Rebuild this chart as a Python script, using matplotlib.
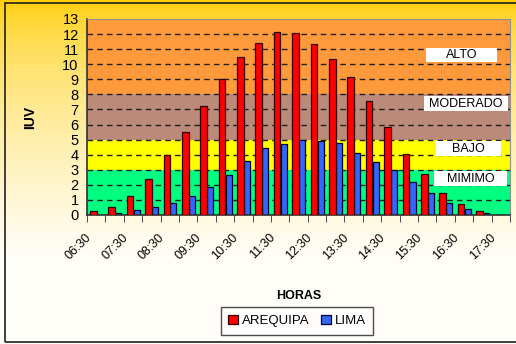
import numpy as np
import matplotlib.pyplot as plt
from matplotlib.patches import Rectangle
import matplotlib.transforms as mtransforms

plt.rcParams['font.family'] = ['Liberation Sans', 'DejaVu Sans']

# half-hour slots, 06:30 .. 17:30
horas = ['06:30', '07:00', '07:30', '08:00', '08:30', '09:00', '09:30', '10:00',
         '10:30', '11:00', '11:30', '12:00', '12:30', '13:00', '13:30', '14:00',
         '14:30', '15:00', '15:30', '16:00', '16:30', '17:00', '17:30']
arequipa = [0.27, 0.55, 1.28, 2.37, 3.96, 5.5, 7.26, 9.05, 10.46, 11.44, 12.12, 12.06,
            11.35, 10.33, 9.14, 7.57, 5.84, 4.03, 2.7, 1.44, 0.73, 0.27, 0]
lima = [0, 0.1, 0.33, 0.5, 0.8, 1.28, 1.84, 2.63, 3.56, 4.42, 4.69, 4.98,
        4.91, 4.8, 4.12, 3.5, 3.0, 2.2, 1.44, 0.82, 0.4, 0.1, 0]

# UV risk bands: (lower, upper, colour, label)
bandas = [(0, 3, '#00FF80', 'MIMIMO'),
          (3, 5, '#FFFF00', 'BAJO'),
          (5, 8, '#BC8A78', 'MODERADO'),
          (8, 13, '#FF9A3C', 'ALTO')]

fig = plt.figure(figsize=(5.16, 3.44), dpi=100)

# gradient background (gold at top -> cream at bottom)
bg = fig.add_axes([0, 0, 1, 1], zorder=-10)
t = np.linspace(0, 1, 256)[:, None]
top = np.array([1.0, 0.80, 0.0])
bot = np.array([1.0, 0.995, 0.975])
w = np.clip(t / 0.75, 0, 1) ** 0.6
grad = (top * (1 - w) + bot * w)[:, None, :]
bg.imshow(grad, aspect='auto', extent=[0, 1, 0, 1])
bg.add_patch(Rectangle((5 / 516, 2 / 344), 1.2, 339 / 344, fill=False,
                       edgecolor='#202020', lw=1.2, transform=bg.transAxes))
bg.set_axis_off()

ax = fig.add_axes([87 / 516, 129 / 344, 423 / 516, 196 / 344])
x = np.arange(len(horas))

for lo, hi, col, lab in bandas:
    ax.axhspan(lo, hi, color=col, zorder=0, lw=0)

for y in range(1, 13):
    ax.axhline(y, color='#202020', lw=1.0, ls=(0, (4, 3)), zorder=1)

bw = 0.36
ax.bar(x - 0.16, arequipa, bw, color='#FF0000', edgecolor='#300000', lw=0.9,
       zorder=3, label='AREQUIPA')
ax.bar(x + 0.2, lima, 0.33, color='#3366FF', edgecolor='#000030', lw=0.9,
       zorder=2, label='LIMA')

# white label boxes for each band
cajas = {'ALTO': (17.93, 10.15, 21.79, 11.07),
         'MODERADO': (17.83, 6.90, 22.39, 7.89),
         'BAJO': (18.48, 3.91, 22.01, 4.91),
         'MIMIMO': (18.37, 1.92, 22.34, 2.92)}
for lab, (x0, y0, x1, y1) in cajas.items():
    ax.add_patch(Rectangle((x0, y0), x1 - x0, y1 - y0, facecolor='white',
                           edgecolor='none', zorder=4))
    ax.text((x0 + x1) / 2, (y0 + y1) / 2, lab, ha='center', va='center',
            fontsize=9, zorder=5)

ax.set_xlim(-0.5, len(horas) - 0.5)
ax.set_ylim(0, 13)
ax.set_yticks(range(14))
ax.tick_params(axis='y', labelsize=10.5, length=0, pad=6)

ax.set_xticks(x[::2])
ax.set_xticklabels(horas[::2], rotation=45, ha='right', va='center',
                   rotation_mode='anchor', fontsize=9)
ax.tick_params(axis='x', length=0, pad=15)
off = mtransforms.ScaledTranslation(-7 / 100, 0, fig.dpi_scale_trans)
for lbl in ax.get_xticklabels():
    lbl.set_transform(lbl.get_transform() + off)
ax.set_xticks(np.arange(-0.5, len(horas)), minor=True)
ax.tick_params(axis='x', which='minor', length=5, direction='out', color='#303030')

for s in ['top', 'right']:
    ax.spines[s].set_color('#909090')
for s in ['left', 'bottom']:
    ax.spines[s].set_color('#303030')
    ax.spines[s].set_linewidth(1.2)

ax.set_ylabel('IUV', fontsize=10, fontweight='bold', labelpad=18)
ax.set_xlabel('HORAS', fontsize=9, fontweight='bold', labelpad=20)

leg = ax.legend(loc='center', bbox_to_anchor=(297 / 516, 23 / 344),
                bbox_transform=fig.transFigure, ncol=2, fontsize=9.5,
                frameon=True, fancybox=False, handlelength=0.75, handleheight=0.75,
                handletextpad=0.25, columnspacing=0.9, borderpad=0.6,
                borderaxespad=0)
leg.get_frame().set_edgecolor('#202020')
leg.get_frame().set_linewidth(1.0)

fig.savefig('out.png', dpi=100)
